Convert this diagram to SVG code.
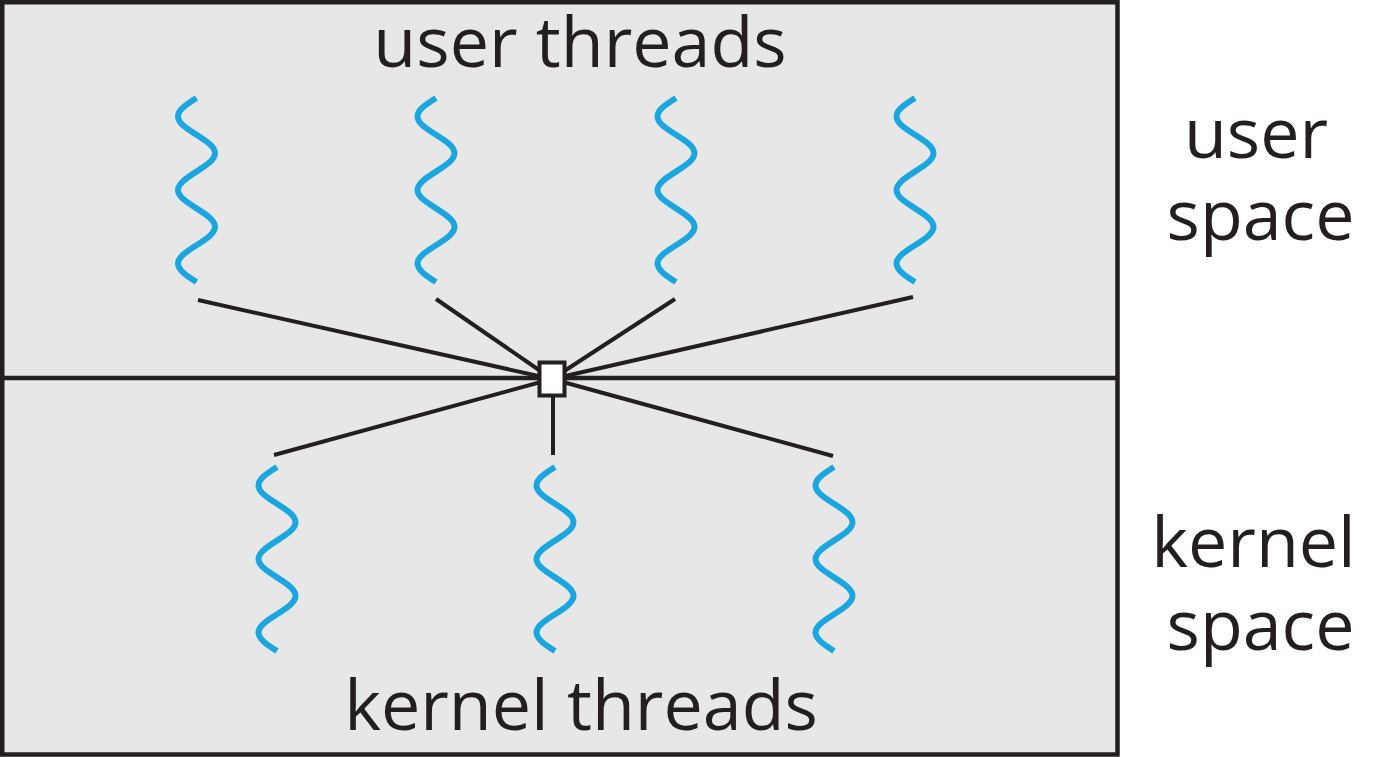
<svg xmlns="http://www.w3.org/2000/svg" xmlns:xlink="http://www.w3.org/1999/xlink" width="1375" height="757" viewBox="0 0 1375 757">
<style>
.frame{fill:#e7e7e7;stroke:#231f20;stroke-width:4.5}
.div{stroke:#231f20;stroke-width:4.5;fill:none}
.conn{stroke:#231f20;stroke-width:4;fill:none}
.wave{stroke:#1ba6df;stroke-width:6;fill:none}
.lbl{font-family:"Open Sans","Noto Sans",sans-serif;font-size:70px;fill:#231f20;text-anchor:middle}
</style>
<defs>
<path id="w" d="M0,0 c-9.71,6.15 -18.5,11.81 -18.5,18.4 c0,6.59 8.79,12.25 18.5,18.4 c9.71,6.15 18.5,11.81 18.5,18.4 c0,6.59 -8.79,12.25 -18.5,18.4 c-9.71,6.15 -18.5,11.81 -18.5,18.4 c0,6.59 8.79,12.25 18.5,18.4 c9.71,6.15 18.5,11.81 18.5,18.4 c0,6.59 -8.79,12.25 -18.5,18.4 c-9.71,6.15 -18.5,11.81 -18.5,18.4 c0,6.59 8.79,12.25 18.5,18.4"/>
</defs>
<rect width="1375" height="757" fill="#ffffff"/>
<g id="frame">
<rect class="frame" x="2.25" y="2.25" width="1115.25" height="752.25"/>
<line class="div" x1="2" y1="378" x2="1117.5" y2="378"/>
</g>
<g id="connectors">
<line class="conn" x1="198" y1="300" x2="552" y2="379"/>
<line class="conn" x1="436" y1="299" x2="552" y2="379"/>
<line class="conn" x1="675" y1="299" x2="552" y2="379"/>
<line class="conn" x1="913" y1="297" x2="552" y2="379"/>
<line class="conn" x1="274" y1="455" x2="552" y2="379"/>
<line class="conn" x1="553" y1="455" x2="553" y2="379"/>
<line class="conn" x1="833" y1="456" x2="552" y2="379"/>
</g>
<g id="user-thread-1"><use xlink:href="#w" class="wave" transform="translate(196.5,98)"/></g>
<g id="user-thread-2"><use xlink:href="#w" class="wave" transform="translate(436,98)"/></g>
<g id="user-thread-3"><use xlink:href="#w" class="wave" transform="translate(676,98)"/></g>
<g id="user-thread-4"><use xlink:href="#w" class="wave" transform="translate(915,98)"/></g>
<g id="kernel-thread-1"><use xlink:href="#w" class="wave" transform="translate(277,467)"/></g>
<g id="kernel-thread-2"><use xlink:href="#w" class="wave" transform="translate(555,467)"/></g>
<g id="kernel-thread-3"><use xlink:href="#w" class="wave" transform="translate(834,467)"/></g>
<g id="mux">
<rect x="539.5" y="362.5" width="25" height="33" fill="#ffffff" stroke="#231f20" stroke-width="4"/>
</g>
<g id="labels">
<text class="lbl" x="580" y="67">user threads</text>
<text class="lbl" x="581" y="730">kernel threads</text>
<text class="lbl" x="1256" y="158">user</text>
<text class="lbl" x="1260.5" y="240">space</text>
<text class="lbl" x="1253.5" y="567">kernel</text>
<text class="lbl" x="1260.5" y="650">space</text>
</g>
</svg>
